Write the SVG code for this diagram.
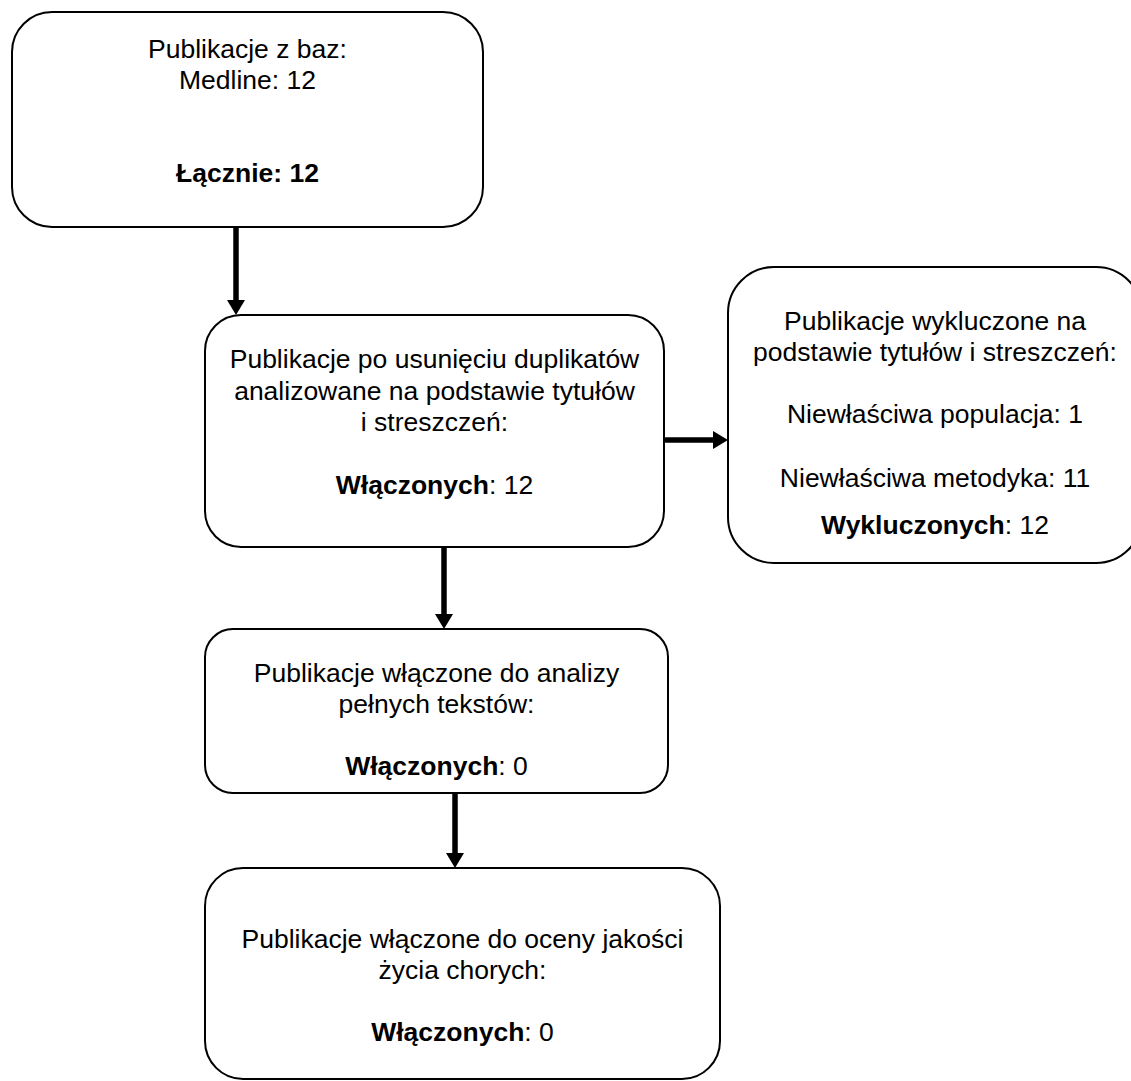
<svg xmlns="http://www.w3.org/2000/svg" width="1131" height="1081" viewBox="0 0 1131 1081">
<style>
.box{fill:#fff;stroke:#000;stroke-width:2}
.t{font-family:"Liberation Sans",Arial,sans-serif;font-size:26.5px;fill:#000;text-anchor:middle}
.b{font-weight:bold}
.c{stroke:#000;stroke-width:5.5;fill:none;marker-end:url(#ah)}
</style>
<defs>
<marker id="ah" markerUnits="userSpaceOnUse" markerWidth="16" markerHeight="18" refX="3" refY="9" orient="auto">
<path d="M0,0 L15,9 L0,18 z" fill="#000"/>
</marker>
</defs>
<rect width="1131" height="1081" fill="#fff"/>
<g id="connectors">
<path class="c" d="M236,227 V303"/>
<path class="c" d="M664,440 H716"/>
<path class="c" d="M444,547 V617"/>
<path class="c" d="M455,793 V856"/>
</g>
<g id="n1">
<rect class="box" x="12" y="12" width="471" height="215" rx="40" ry="40"/>
<text class="t" x="247.5" y="58">Publikacje z baz:</text>
<text class="t" x="247.5" y="89">Medline: 12</text>
<text class="t b" x="247.5" y="182">Łącznie: 12</text>
</g>
<g id="n2">
<rect class="box" x="205" y="315" width="459" height="232" rx="36" ry="36"/>
<text class="t" x="434.5" y="368">Publikacje po usunięciu duplikatów</text>
<text class="t" x="434.5" y="400">analizowane na podstawie tytułów</text>
<text class="t" x="434.5" y="431">i streszczeń:</text>
<text class="t" x="434.5" y="494"><tspan class="b">Włączonych</tspan>: 12</text>
</g>
<g id="n3">
<rect class="box" x="728" y="267" width="414" height="296" rx="46" ry="46"/>
<text class="t" x="935" y="330">Publikacje wykluczone na</text>
<text class="t" x="935" y="361">podstawie tytułów i streszczeń:</text>
<text class="t" x="935" y="423">Niewłaściwa populacja: 1</text>
<text class="t" x="935" y="487">Niewłaściwa metodyka: 11</text>
<text class="t" x="935" y="534"><tspan class="b">Wykluczonych</tspan>: 12</text>
</g>
<g id="n4">
<rect class="box" x="205" y="629" width="463" height="164" rx="28" ry="28"/>
<text class="t" x="436.5" y="682">Publikacje włączone do analizy</text>
<text class="t" x="436.5" y="713">pełnych tekstów:</text>
<text class="t" x="436.5" y="775"><tspan class="b">Włączonych</tspan>: 0</text>
</g>
<g id="n5">
<rect class="box" x="205" y="868" width="515" height="211" rx="38" ry="38"/>
<text class="t" x="462.5" y="948">Publikacje włączone do oceny jakości</text>
<text class="t" x="462.5" y="979">życia chorych:</text>
<text class="t" x="462.5" y="1041"><tspan class="b">Włączonych</tspan>: 0</text>
</g>
</svg>
